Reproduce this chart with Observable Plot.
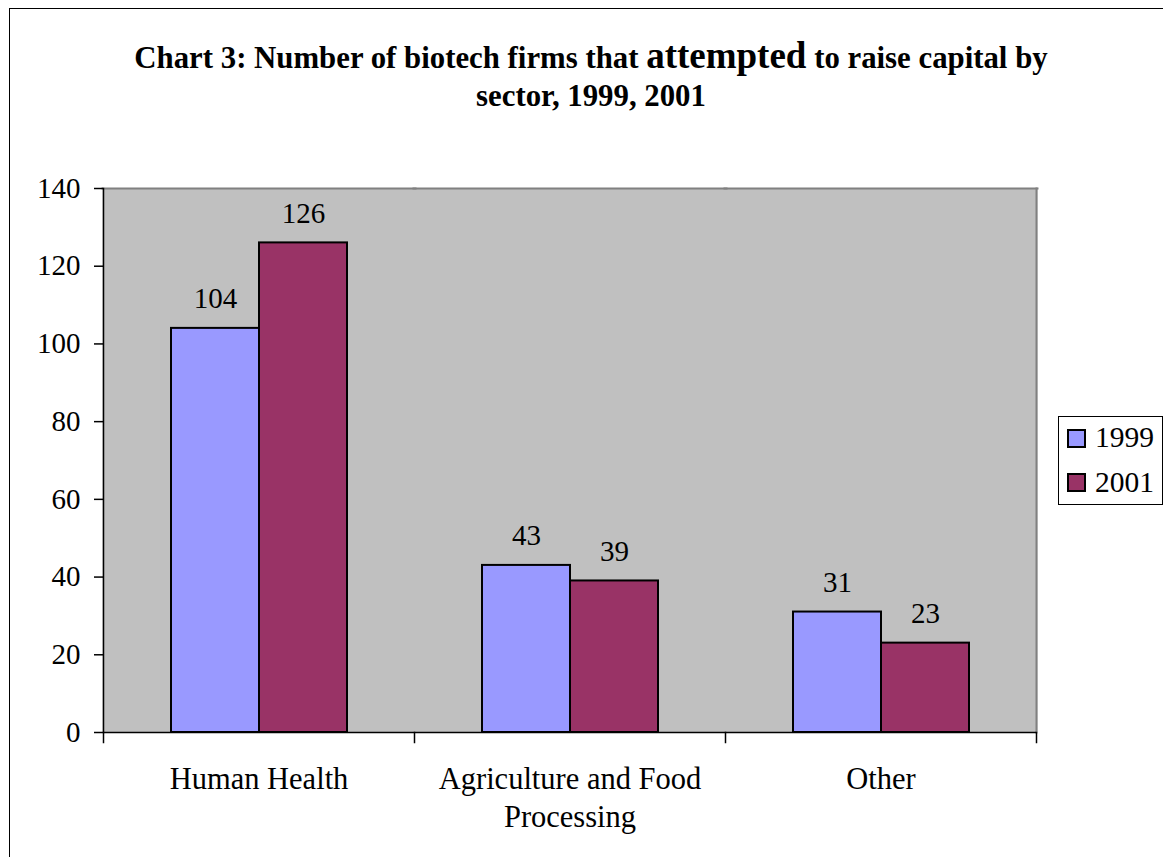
<!DOCTYPE html>
<html>
<head>
<meta charset="utf-8">
<script src="https://cdn.jsdelivr.net/npm/d3@7"></script>
<script src="https://cdn.jsdelivr.net/npm/@observablehq/plot@0.6"></script>
<style>
  html, body { margin: 0; padding: 0; background: #fff; overflow: hidden; }
  #chart { position: relative; width: 1163px; height: 857px; font-family: "Liberation Serif", "Times New Roman", serif; color: #000; }
  #chart svg { position: absolute; left: 0; top: 0; }
  .outer { position: absolute; left: 9px; top: 8px; width: 1200px; height: 900px; border: 1px solid #000; box-sizing: border-box; }
  .title { position: absolute; left: 0; width: 1182px; text-align: center; font-weight: bold; font-size: 30.8px; line-height: 39px; white-space: nowrap; }
  .title .big { font-size: 37px; }
  .legend { position: absolute; left: 1058px; top: 416px; width: 105px; height: 89px; border: 1px solid #000; box-sizing: border-box; background: #fff; }
  .legend .sw { position: absolute; left: 8px; width: 19px; height: 19px; border: 2px solid #000; box-sizing: border-box; }
  .legend .lab { position: absolute; left: 36px; font-size: 29.5px; line-height: 29px; }
</style>
</head>
<body>
<div id="chart">
  <div class="outer"></div>
</div>
<script>
// Sectors and the number of firms per survey year
const sectors = ["Human Health", "Agriculture and Food Processing", "Other"];
const sectorLabels = ["Human Health", "Agriculture and Food\nProcessing", "Other"];
const years = ["1999", "2001"];
const values1999 = [104, 43, 31];
const values2001 = [126, 39, 23];
const yTicks = [0, 20, 40, 60, 80, 100, 120, 140];
const seriesColors = ["#9999FF", "#993366"];

const titleLine1 = ["Chart 3: Number of biotech firms that ", "attempted", " to raise capital by"];
const titleLine2 = "sector, 1999, 2001";

const rows = [];
sectors.forEach((s, i) => {
  rows.push({sector: s, year: years[0], value: values1999[i]});
  rows.push({sector: s, year: years[1], value: values2001[i]});
});

const W = 1163, H = 857;
const mTop = 188, mBottom = 125, mLeft = 103, mRight = 127;
const plotH = H - mTop - mBottom;
const font = 29;
const first = [sectors[0]];
const last = [sectors[sectors.length - 1]];

const chart = Plot.plot({
  width: W,
  height: H,
  marginTop: mTop,
  marginBottom: mBottom,
  marginLeft: mLeft,
  marginRight: mRight,
  style: {
    fontFamily: "'Liberation Serif', 'Times New Roman', serif",
    color: "#000",
    background: "transparent",
    overflow: "visible"
  },
  fx: {domain: sectors, padding: 0, label: null},
  x: {domain: years, paddingInner: 0, paddingOuter: 0.75, axis: null},
  y: {domain: [0, 140]},
  color: {domain: years, range: seriesColors},
  marks: [
    // grey plot area (slightly overlapping per facet so no seams) with its top and right border
    Plot.frame({fill: "#C0C0C0", stroke: "none", insetLeft: -1, insetRight: -1}),
    Plot.frame({anchor: "top", stroke: "#808080", strokeWidth: 2, insetLeft: -1, insetRight: -1}),
    Plot.frame({anchor: "right", stroke: "#808080", strokeWidth: 2, fx: last}),
    // clustered bars
    Plot.barY(rows, {fx: "sector", x: "year", y: "value", fill: "year", stroke: "#000", strokeWidth: 2}),
    // axis lines
    Plot.ruleY([0], {stroke: "#000", strokeWidth: 1.5}),
    Plot.frame({anchor: "left", stroke: "#000", strokeWidth: 1.5, fx: first}),
    // category boundary ticks below the baseline
    Plot.frame({anchor: "left", stroke: "#000", strokeWidth: 1.5, insetTop: plotH, insetBottom: -10}),
    Plot.frame({anchor: "right", stroke: "#000", strokeWidth: 1.5, insetTop: plotH, insetBottom: -10, fx: last}),
    Plot.axisY({ticks: yTicks, tickSize: 9, tickPadding: 14, fontSize: font, strokeWidth: 1.5, label: null}),
    Plot.axisFx({
      anchor: "bottom",
      tickSize: 0,
      tickPadding: 29,
      fontSize: 30.5,
      lineHeight: 1.25,
      label: null,
      tickFormat: (d) => sectorLabels[sectors.indexOf(d)]
    }),
    // value labels
    Plot.text(rows, {fx: "sector", x: "year", y: "value", text: (d) => String(d.value), lineAnchor: "bottom", dy: -20, fontSize: font})
  ]
});

const root = document.getElementById("chart");
root.insertBefore(chart, root.firstChild);

// title
const t1 = document.createElement("div");
t1.className = "title";
t1.style.top = "36px";
t1.append(titleLine1[0]);
const big = document.createElement("span");
big.className = "big";
big.textContent = titleLine1[1];
t1.append(big, titleLine1[2]);
root.appendChild(t1);

const t2 = document.createElement("div");
t2.className = "title";
t2.style.top = "77px";
t2.textContent = titleLine2;
root.appendChild(t2);

// legend
const legend = document.createElement("div");
legend.className = "legend";
years.forEach((y, i) => {
  const sw = document.createElement("div");
  sw.className = "sw";
  sw.style.top = (12 + i * 44) + "px";
  sw.style.background = seriesColors[i];
  const lab = document.createElement("div");
  lab.className = "lab";
  lab.style.top = (6 + i * 45) + "px";
  lab.textContent = y;
  legend.append(sw, lab);
});
root.appendChild(legend);
</script>
</body>
</html>
